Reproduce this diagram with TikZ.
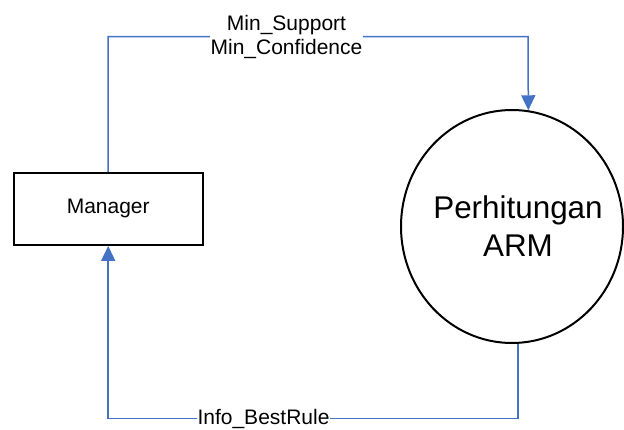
\documentclass[tikz,border=0pt]{standalone}
\usepackage{fontspec}
\setmainfont{Liberation Sans}
\usetikzlibrary{shapes.geometric,arrows.meta}
\definecolor{flowblue}{RGB}{68,114,196}
\tikzset{
  flow/.style={draw=flowblue, line width=1.5pt, -{Triangle[length=15pt,width=14pt]}},
  flowplain/.style={draw=flowblue, line width=1.5pt},
  entity/.style={draw=black, line width=2pt, rectangle, minimum width=189pt, minimum height=72pt, inner sep=0pt, font=\fontsize{21}{24}\selectfont},
  proc/.style={draw=black, line width=2pt, ellipse, minimum width=222pt, minimum height=233pt, inner sep=0pt},
  flowlabel/.style={fill=white, inner xsep=1pt, inner ysep=0pt, align=center, font=\fontsize{21}{24}\selectfont},
  procfont/.style={align=center, font=\fontsize{31.4}{38}\selectfont}
}
\begin{document}
\begin{tikzpicture}[x=1pt,y=-1pt]
\useasboundingbox[fill=white] (0,0) rectangle (624,429);
\node[entity] (mgr) at (108.2,208.9) {Manager};
\node[proc, label={[procfont, xshift=6pt, yshift=0.5pt]center:Perhitungan\\ARM}] (arm) at (512,226.5) {};
\coordinate (tr) at (528,36.7);
\coordinate (bl) at (108.2,418.7);
\draw[flow] (mgr.north) |- (tr) -- (arm.82.1);
\draw[flow] (arm.-87) |- (bl) -- (mgr.south);
\node[flowlabel] (lin) at (286.5,37) {Min\_Support\\Min\_Confidence};
\node[flowlabel] (lout) at (263.5,418.7) {Info\_BestRule};
\end{tikzpicture}
\end{document}
